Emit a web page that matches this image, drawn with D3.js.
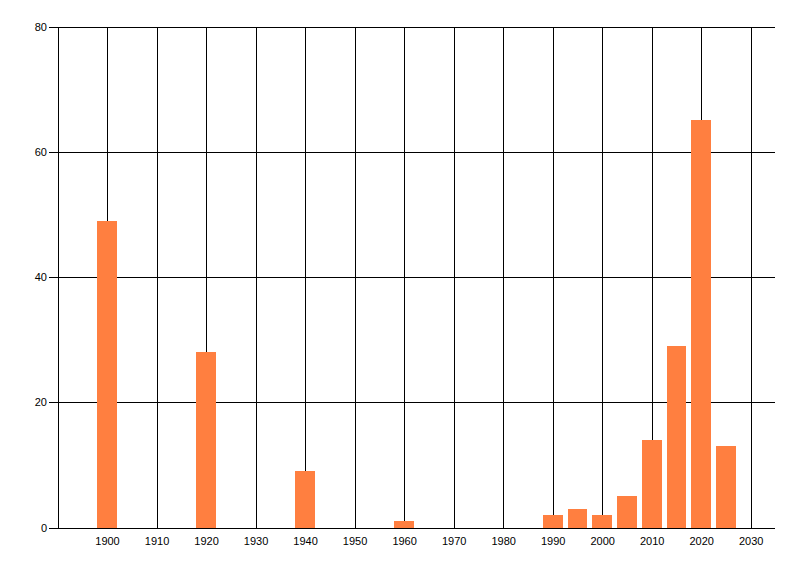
<!DOCTYPE html>
<html>
<head>
<meta charset="utf-8">
<script src="https://cdn.jsdelivr.net/npm/d3@7"></script>
<style>
  body { margin: 0; background: #fff; }
  text { font-family: "Liberation Sans", Arial, sans-serif; font-size: 11px; fill: #000; }
</style>
</head>
<body>
<div id="chart"></div>
<script>
// data
var years = [1900, 1920, 1940, 1960, 1990, 1995, 2000, 2005, 2010, 2015, 2020, 2025];
var counts = [49, 28, 9, 1, 2, 3, 2, 5, 14, 29, 65, 13];
var xTicks = [1900, 1910, 1920, 1930, 1940, 1950, 1960, 1970, 1980, 1990, 2000, 2010, 2020, 2030];
var yTicks = [0, 20, 40, 60, 80];

var width = 800, height = 576;
var barYears = 4; // bar width in years

var svg = d3.select("#chart")
    .append("svg")
    .attr("width", width)
    .attr("height", height);

var x = d3.scaleLinear()
    .domain([1890, 2035])
    .range([57.5, 775.5]);

var y = d3.scaleLinear()
    .domain([0, 80])
    .range([527.5, 26.5]);

// vertical grid lines (1890 line is the left edge)
svg.append("g")
    .selectAll("line")
    .data([1890].concat(xTicks))
    .enter()
    .append("line")
    .attr("x1", function(d) { return Math.round(x(d)) + 0.5; })
    .attr("x2", function(d) { return Math.round(x(d)) + 0.5; })
    .attr("y1", y(80))
    .attr("y2", y(0))
    .attr("stroke", "#000")
    .attr("shape-rendering", "crispEdges");

// horizontal grid lines with tick stubs
svg.append("g")
    .selectAll("line")
    .data(yTicks)
    .enter()
    .append("line")
    .attr("x1", 49)
    .attr("x2", 775)
    .attr("y1", function(d) { return Math.round(y(d)) + 0.5; })
    .attr("y2", function(d) { return Math.round(y(d)) + 0.5; })
    .attr("stroke", "#000")
    .attr("shape-rendering", "crispEdges");

// bars
svg.append("g")
    .selectAll("rect")
    .data(years)
    .enter()
    .append("rect")
    .attr("x", function(d) { return Math.round(x(d - barYears / 2)); })
    .attr("width", function(d) { return Math.round(x(d + barYears / 2)) - Math.round(x(d - barYears / 2)); })
    .attr("y", function(d, i) { return Math.round(y(counts[i])); })
    .attr("height", function(d, i) { return Math.round(y(0)) - Math.round(y(counts[i])); })
    .attr("fill", "#FF7F40")
    .attr("shape-rendering", "crispEdges");

// y labels
svg.append("g")
    .selectAll("text")
    .data(yTicks)
    .enter()
    .append("text")
    .attr("x", 47)
    .attr("y", function(d) { return y(d) + 4; })
    .attr("text-anchor", "end")
    .text(function(d) { return d; });

// x labels
svg.append("g")
    .selectAll("text")
    .data(xTicks)
    .enter()
    .append("text")
    .attr("x", function(d) { return x(d) + 0.5; })
    .attr("y", 545)
    .attr("text-anchor", "middle")
    .text(function(d) { return d; });
</script>
</body>
</html>
